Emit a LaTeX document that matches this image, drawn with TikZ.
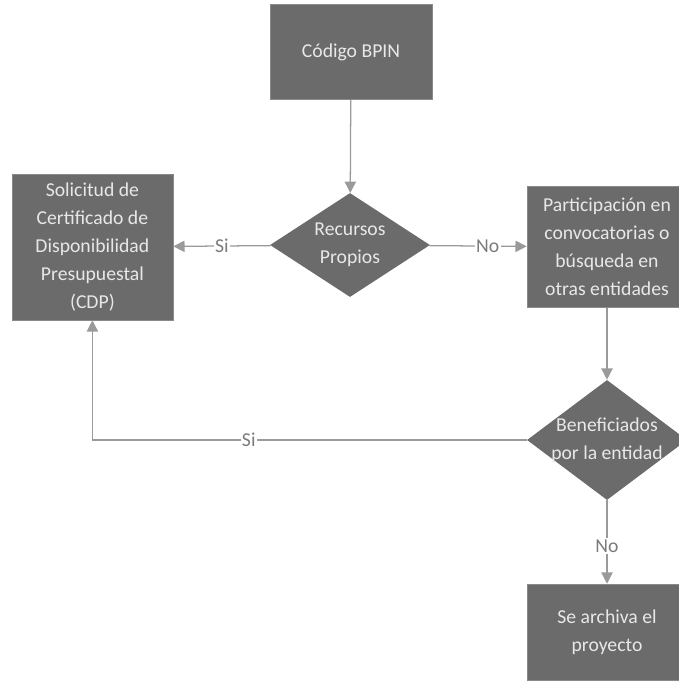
\documentclass[tikz,border=0pt]{standalone}
\usepackage{fontspec}
\setmainfont{Carlito}
\usetikzlibrary{shapes.geometric,arrows.meta}
\definecolor{boxgray}{HTML}{6B6B6B}
\definecolor{linegray}{HTML}{9A9A9A}
\definecolor{txtgray}{HTML}{E8E8E8}
\tikzset{
    stepbox/.style={rectangle, fill=boxgray, draw=boxgray!80, text=txtgray, align=center, font=\fontsize{14}{20}\selectfont, inner sep=2pt},
    decision/.style={diamond, fill=boxgray, inner sep=0pt},
    dtext/.style={text=txtgray, align=center, font=\fontsize{14}{20}\selectfont, inner sep=0pt},
    flow/.style={draw=linegray, line width=0.9pt, -{Triangle[width=8pt,length=8pt]}},
    lbl/.style={fill=white, text=linegray!80!black, font=\fontsize{14}{16}\selectfont, inner sep=1pt}
}
\begin{document}
\begin{tikzpicture}
    \useasboundingbox (0,0) rectangle (16.975,-17.025);
    \begin{scope}
    \clip (0,0) rectangle (16.975,-17.025);
        \node[stepbox, minimum width=4.05cm, minimum height=2.375cm] (bpin) at (8.775,-1.3) {Código BPIN};
        \node[decision, minimum width=4cm, minimum height=2.6cm] (rec) at (8.75,-6.125) {};
        \node[dtext] (rectxt) at (rec) {Recursos\\Propios};
        \node[stepbox, minimum width=4.03cm, minimum height=3.65cm] (cdp) at (2.31,-6.175) {Solicitud de\\Certificado de\\Disponibilidad\\Presupuestal\\(CDP)};
        \node[stepbox, minimum width=4cm, minimum height=3.03cm] (part) at (15.175,-6.175) {Participación en\\convocatorias o\\búsqueda en\\otras entidades};
        \node[decision, minimum width=4cm, minimum height=3cm] (ben) at (15.175,-11) {};
        \node[dtext] (bentxt) at (ben) {Beneficiados\\por la entidad};
        \node[stepbox, minimum width=4cm, minimum height=2.4cm] (arch) at (15.175,-15.8) {Se archiva el\\proyecto};
        \coordinate (corner) at (cdp.south |- ben.west);
        \draw[flow] (bpin) -- (rec);
        \draw[flow] (rec) -- node[lbl] {Si} (cdp);
        \draw[flow] (rec) -- node[lbl, pos=0.6] {No} (part);
        \draw[flow] (part) -- (ben);
        \draw[flow] (ben.west) -- node[lbl, pos=0.64] {Si} (corner) -- (cdp.south);
        \draw[flow] (ben) -- node[lbl, pos=0.55] {No} (arch);
    \end{scope}
\end{tikzpicture}
\end{document}
